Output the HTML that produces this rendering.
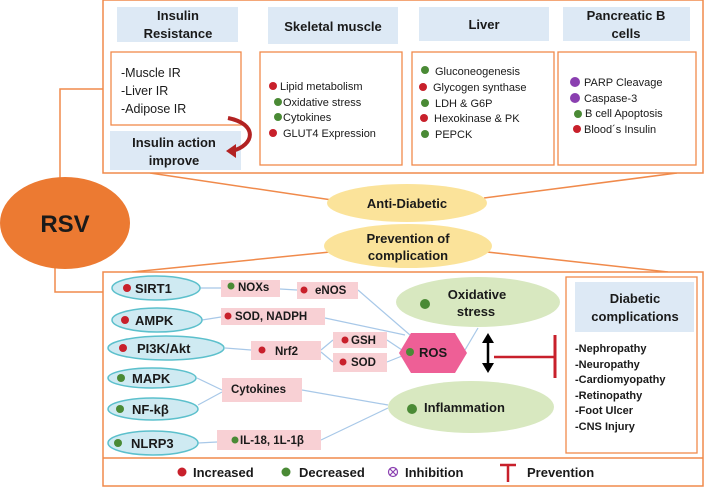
<!DOCTYPE html>
<html><head><meta charset="utf-8"><style>
html,body{margin:0;padding:0;background:#fff}
svg{display:block}
text{font-family:"Liberation Sans",Arial,sans-serif;fill:#1a1a1a}
.b{font-weight:bold}
</style></head><body>
<svg width="708" height="487" viewBox="0 0 708 487" xmlns="http://www.w3.org/2000/svg">
<g stroke="#f08a4b" stroke-width="1.5" fill="none">
<polyline points="103,89 60,89 60,180"/>
<line x1="150" y1="173" x2="332" y2="200"/>
<line x1="677" y1="173" x2="484" y2="198"/>
<polyline points="55,266 55,292 103,292"/>
<line x1="330" y1="252" x2="132" y2="272"/>
<line x1="487" y1="252" x2="668" y2="272"/>
</g>
<rect x="103" y="0" width="600" height="173" fill="#fff" stroke="#f08a4b" stroke-width="1.5"/>
<g fill="#dde9f5">
<rect x="117" y="7" width="121" height="35"/>
<rect x="268" y="7" width="130" height="37"/>
<rect x="419" y="7" width="130" height="34"/>
<rect x="563" y="7" width="127" height="34"/>
<rect x="110" y="131" width="131" height="39"/>
</g>
<g fill="#fff" stroke="#f08a4b" stroke-width="1.3">
<rect x="111" y="52" width="130" height="73"/>
<rect x="260" y="52" width="142" height="113"/>
<rect x="412" y="52" width="142" height="113"/>
<rect x="558" y="52" width="138" height="113"/>
</g>
<g class="b" font-size="13" text-anchor="middle">
<text x="178" y="20">Insulin</text><text x="178" y="38">Resistance</text>
<text x="333" y="31">Skeletal muscle</text>
<text x="484" y="29">Liver</text>
<text x="626" y="20">Pancreatic B</text><text x="626" y="38">cells</text>
<text x="174" y="147">Insulin action</text><text x="174" y="165">improve</text>
</g>
<g font-size="12.5">
<text x="121" y="77">-Muscle IR</text><text x="121" y="95">-Liver IR</text><text x="121" y="113">-Adipose IR</text>
</g>
<path d="M228,118 C258,124 255,145 232,151" stroke="#b22222" stroke-width="4" fill="none"/>
<polygon points="226,151 236,144 236,158" fill="#b22222"/>
<g font-size="11">
<text x="280" y="90">Lipid metabolism</text><text x="283" y="106">Oxidative stress</text>
<text x="283" y="121">Cytokines</text><text x="283" y="137">GLUT4 Expression</text>
<text x="435" y="75">Gluconeogenesis</text><text x="433" y="91">Glycogen synthase</text>
<text x="435" y="107">LDH &amp; G6P</text><text x="434" y="122">Hexokinase &amp; PK</text>
<text x="435" y="138">PEPCK</text>
<text x="584" y="86">PARP Cleavage</text><text x="584" y="102">Caspase-3</text>
<text x="585" y="117">B cell Apoptosis</text><text x="584" y="133">Blood´s Insulin</text>
</g>
<g>
<circle cx="273" cy="86" r="4" fill="#c8202b"/><circle cx="278" cy="102" r="4" fill="#4a8a35"/>
<circle cx="278" cy="117" r="4" fill="#4a8a35"/><circle cx="273" cy="133" r="4" fill="#c8202b"/>
<circle cx="425" cy="70" r="4" fill="#4a8a35"/><circle cx="423" cy="87" r="4" fill="#c8202b"/>
<circle cx="425" cy="103" r="4" fill="#4a8a35"/><circle cx="424" cy="118" r="4" fill="#c8202b"/>
<circle cx="425" cy="134" r="4" fill="#4a8a35"/>
<circle cx="575" cy="82" r="5" fill="#8a3fb0"/><circle cx="575" cy="98" r="5" fill="#8a3fb0"/>
<circle cx="578" cy="114" r="4" fill="#4a8a35"/><circle cx="577" cy="129" r="4" fill="#c8202b"/>
</g>
<ellipse cx="65" cy="223" rx="65" ry="46" fill="#ec7a32"/>
<text x="65" y="232" class="b" font-size="24" text-anchor="middle">RSV</text>
<ellipse cx="407" cy="203" rx="80" ry="19" fill="#fbe39a"/>
<text x="407" y="208" class="b" font-size="13" text-anchor="middle">Anti-Diabetic</text>
<ellipse cx="408" cy="246" rx="84" ry="22" fill="#fbe39a"/>
<text x="408" y="243" class="b" font-size="13" text-anchor="middle">Prevention of</text>
<text x="408" y="260" class="b" font-size="13" text-anchor="middle">complication</text>
<rect x="103" y="272" width="600" height="214" fill="#fff" stroke="#f08a4b" stroke-width="1.5"/>
<line x1="103" y1="458" x2="703" y2="458" stroke="#f08a4b" stroke-width="1.5"/>
<g stroke="#a8c8e8" stroke-width="1.2" fill="none">
<line x1="200" y1="288" x2="221" y2="288"/><line x1="280" y1="289" x2="297" y2="290"/>
<line x1="358" y1="290" x2="410" y2="335"/>
<line x1="202" y1="320" x2="221" y2="317"/><line x1="325" y1="318" x2="405" y2="335"/>
<line x1="225" y1="348" x2="251" y2="350"/>
<polyline points="321,350 333,340"/><polyline points="321,352 333,362"/>
<line x1="387" y1="340" x2="402" y2="350"/><line x1="387" y1="362" x2="402" y2="356"/>
<line x1="465" y1="350" x2="478" y2="328"/>
<line x1="197" y1="378" x2="222" y2="390"/><line x1="198" y1="405" x2="222" y2="392"/>
<line x1="302" y1="390" x2="388" y2="405"/>
<line x1="198" y1="443" x2="217" y2="442"/><line x1="321" y1="440" x2="388" y2="408"/>
</g>
<g fill="#cfeaf2" stroke="#5cc0cc" stroke-width="1.5">
<ellipse cx="156" cy="288" rx="44" ry="12"/>
<ellipse cx="157" cy="320" rx="45" ry="12"/>
<ellipse cx="166" cy="348" rx="58" ry="12"/>
<ellipse cx="152" cy="378" rx="44" ry="10"/>
<ellipse cx="153" cy="409" rx="45" ry="11"/>
<ellipse cx="153" cy="443" rx="45" ry="12"/>
</g>
<g class="b" font-size="13">
<text x="135" y="293">SIRT1</text><text x="135" y="325">AMPK</text><text x="137" y="353">PI3K/Akt</text>
<text x="132" y="383">MAPK</text><text x="132" y="414">NF-kβ</text><text x="131" y="448">NLRP3</text>
</g>
<g fill="#c8202b"><circle cx="127" cy="288" r="4"/><circle cx="125" cy="320" r="4"/><circle cx="123" cy="348" r="4"/></g>
<g fill="#4a8a35"><circle cx="121" cy="378" r="4"/><circle cx="120" cy="409" r="4"/><circle cx="118" cy="443" r="4"/></g>
<g fill="#f8d0d4">
<rect x="221" y="280" width="59" height="17"/><rect x="297" y="282" width="61" height="17"/>
<rect x="221" y="308" width="104" height="17"/><rect x="251" y="341" width="70" height="19"/>
<rect x="333" y="332" width="54" height="16"/><rect x="333" y="353" width="54" height="19"/>
<rect x="222" y="378" width="80" height="24"/><rect x="217" y="430" width="104" height="20"/>
</g>
<g class="b" font-size="11.5">
<text x="238" y="291">NOXs</text><text x="315" y="294">eNOS</text>
<text x="235" y="320">SOD, NADPH</text><text x="275" y="355">Nrf2</text>
<text x="351" y="344">GSH</text><text x="351" y="366">SOD</text>
<text x="231" y="393">Cytokines</text><text x="240" y="444">IL-18, 1L-1β</text>
</g>
<g fill="#4a8a35"><circle cx="231" cy="286" r="3.5"/><circle cx="235" cy="440" r="3.5"/></g>
<g fill="#c8202b"><circle cx="304" cy="290" r="3.5"/><circle cx="228" cy="316" r="3.5"/><circle cx="262" cy="350" r="3.5"/><circle cx="345" cy="340" r="3.5"/><circle cx="343" cy="362" r="3.5"/></g>
<polygon points="399,353 411,333 455,333 467,353 455,373 411,373" fill="#ee5f96"/>
<circle cx="410" cy="352" r="4" fill="#4a8a35"/>
<text x="419" y="357" class="b" font-size="13">ROS</text>
<ellipse cx="478" cy="302" rx="82" ry="25" fill="#d8e8c0"/>
<circle cx="425" cy="304" r="5" fill="#4a8a35"/>
<text x="477" y="299" class="b" font-size="13" text-anchor="middle">Oxidative</text>
<text x="476" y="316" class="b" font-size="13" text-anchor="middle">stress</text>
<ellipse cx="471" cy="407" rx="83" ry="26" fill="#d8e8c0"/>
<circle cx="412" cy="409" r="5" fill="#4a8a35"/>
<text x="424" y="412" class="b" font-size="13">Inflammation</text>
<line x1="488" y1="340" x2="488" y2="367" stroke="#000" stroke-width="2.5"/>
<polygon points="488,333 482,343 494,343" fill="#000"/><polygon points="488,373 482,363 494,363" fill="#000"/>
<line x1="494" y1="357" x2="555" y2="357" stroke="#c8202b" stroke-width="2.5"/>
<line x1="555" y1="335" x2="555" y2="378" stroke="#c8202b" stroke-width="3"/>
<rect x="566" y="277" width="131" height="176" fill="#fff" stroke="#f08a4b" stroke-width="1.3"/>
<rect x="575" y="282" width="119" height="50" fill="#dde9f5"/>
<text x="635" y="303" class="b" font-size="13" text-anchor="middle">Diabetic</text>
<text x="635" y="321" class="b" font-size="13" text-anchor="middle">complications</text>
<g class="b" font-size="11">
<text x="575" y="352">-Nephropathy</text><text x="575" y="368">-Neuropathy</text>
<text x="575" y="383">-Cardiomyopathy</text><text x="575" y="399">-Retinopathy</text>
<text x="575" y="414">-Foot Ulcer</text><text x="575" y="430">-CNS Injury</text>
</g>
<circle cx="182" cy="472" r="4.5" fill="#c8202b"/><text x="193" y="477" class="b" font-size="13">Increased</text>
<circle cx="286" cy="472" r="4.5" fill="#4a8a35"/><text x="299" y="477" class="b" font-size="13">Decreased</text>
<circle cx="393" cy="472" r="4.5" fill="none" stroke="#8a3fb0" stroke-width="1.2"/>
<path d="M390,469 L396,475 M396,469 L390,475" stroke="#8a3fb0" stroke-width="1.2"/>
<text x="405" y="477" class="b" font-size="13">Inhibition</text>
<path d="M500,465 L516,465 M508,465 L508,482" stroke="#c8202b" stroke-width="2.5"/>
<text x="527" y="477" class="b" font-size="13">Prevention</text>
</svg>
</body></html>
